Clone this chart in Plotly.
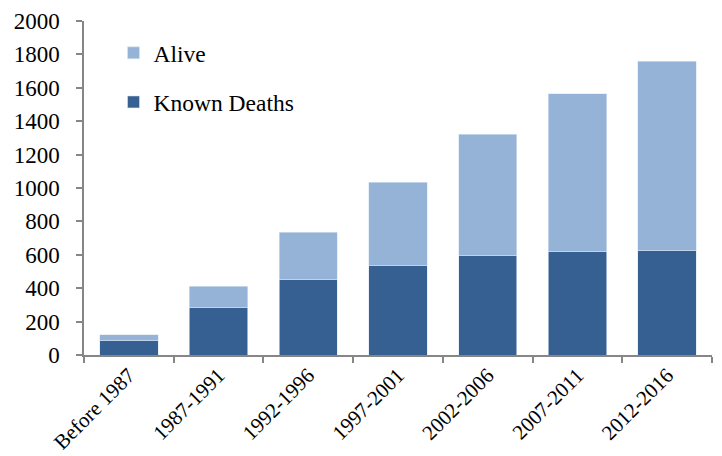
import plotly.graph_objects as go

categories = ["Before 1987", "1987-1991", "1992-1996", "1997-2001", "2002-2006", "2007-2011", "2012-2016"]
known_deaths = [85, 283, 451, 537, 595, 617, 625]
alive = [35, 130, 284, 497, 728, 946, 1134]
y_ticks = list(range(0, 2001, 200))

font_family = "Liberation Serif"
axis_color = "#868686"

fig = go.Figure()
fig.add_trace(go.Bar(
    x=categories, y=known_deaths, name="Known Deaths",
    marker=dict(color="#376092", line=dict(color="#dce6f2", width=0.6)),
    legend="legend2", showlegend=True,
))
fig.add_trace(go.Bar(
    x=categories, y=alive, name="Alive",
    marker=dict(color="#95b3d7", line=dict(color="#dce6f2", width=0.6)),
    legend="legend", showlegend=True,
))

legend_common = dict(
    font=dict(family=font_family, size=23.5, color="#000000"),
    bgcolor="rgba(0,0,0,0)", xanchor="left", yanchor="middle",
    itemwidth=30, borderwidth=0,
)

fig.update_layout(
    width=722, height=456,
    margin=dict(l=84, r=10, t=21, b=101),
    paper_bgcolor="white", plot_bgcolor="white",
    barmode="stack", bargap=0.35,
    showlegend=True,
    font=dict(family=font_family, size=23, color="#000000"),
    legend=dict(x=0.047, y=0.904, **legend_common),
    legend2=dict(x=0.047, y=0.757, **legend_common),
    xaxis=dict(
        showline=True, linecolor=axis_color, linewidth=1.5,
        ticks="outside", tickson="boundaries", ticklen=6, tickcolor=axis_color, tickwidth=1.5,
        tickangle=-45, showgrid=False, automargin=False,
        ticklabelstandoff=-2,
        tickfont=dict(family=font_family, size=21, color="#000000"),
    ),
    yaxis=dict(
        range=[0, 2000], tickvals=y_ticks,
        showline=True, linecolor=axis_color, linewidth=1.5,
        ticks="outside", ticklen=6, tickcolor=axis_color, tickwidth=1.5,
        showgrid=False, zeroline=False, automargin=False,
        ticklabelstandoff=12,
        tickfont=dict(family=font_family, size=23, color="#000000"),
    ),
)

fig.write_html(
    "out.html",
    config={"displayModeBar": False},
    post_script="document.body.style.margin='0';document.body.style.overflow='hidden';",
)
